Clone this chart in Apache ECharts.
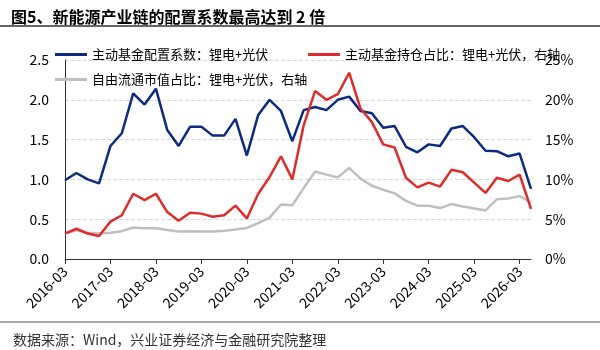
<!DOCTYPE html>
<html><head><meta charset="utf-8">
<script src="https://cdn.jsdelivr.net/npm/echarts@6/dist/echarts.min.js"></script>
<style>html,body{margin:0;padding:0;background:#fff}#c{width:600px;height:350px}</style>
</head><body><div id="c"></div>
<script>
const categories = [
 '2016-03','2016-06','2016-09','2016-12','2017-03','2017-06','2017-09','2017-12',
 '2018-03','2018-06','2018-09','2018-12','2019-03','2019-06','2019-09','2019-12',
 '2020-03','2020-06','2020-09','2020-12','2021-03','2021-06','2021-09','2021-12',
 '2022-03','2022-06','2022-09','2022-12','2023-03','2023-06','2023-09','2023-12',
 '2024-03','2024-06','2024-09','2024-12','2025-03','2025-06','2025-09','2025-12',
 '2026-03','2026-06'];
const allocCoef = [0.99,1.08,1.00,0.95,1.42,1.58,2.08,1.94,2.14,1.62,1.42,1.66,1.66,1.55,1.55,1.76,
 1.30,1.81,2.00,1.86,1.48,1.87,1.91,1.87,2.00,2.04,1.86,1.83,1.65,1.67,1.41,1.34,1.44,1.42,1.64,1.67,
 1.53,1.36,1.355,1.29,1.325,0.88];
const holdShare = [3.2,3.8,3.2,2.9,4.7,5.5,8.2,7.4,8.2,5.9,4.8,5.8,5.7,5.3,5.5,6.7,
 5.1,8.2,10.3,12.9,10.0,16.8,21.1,20.0,20.7,23.4,18.9,17.2,14.4,14.0,10.2,9.0,9.6,9.1,11.2,10.9,
 9.6,8.3,10.2,9.8,10.6,6.3];
const floatShare = [3.2,3.6,3.3,3.2,3.3,3.5,3.95,3.85,3.85,3.65,3.45,3.5,3.45,3.45,3.55,3.7,
 3.9,4.5,5.2,6.85,6.75,8.9,11.0,10.6,10.25,11.45,10.1,9.2,8.7,8.25,7.3,6.7,6.7,6.4,6.9,6.6,
 6.35,6.1,7.5,7.6,7.9,7.1];
const names = ['主动基金配置系数：锂电+光伏','主动基金持仓占比：锂电+光伏，右轴','自由流通市值占比：锂电+光伏，右轴'];
const colors = ['#0c2a80','#e02b2b','#bfbfbf'];
const FONT = '"Noto Sans CJK SC", "Noto Sans", sans-serif';

const chart = echarts.init(document.getElementById('c'), null, {renderer:'canvas'});
const legendBase = {icon:'rect', itemWidth:32, itemHeight:3, itemGap:10,
  textStyle:{fontSize:13, color:'#000', fontFamily:FONT}};
chart.setOption({
  animation:false,
  backgroundColor:'#fff',
  title:[
    {text:'图5、新能源产业链的配置系数最高达到 2 倍', left:6, top:4,
     textStyle:{fontSize:16, fontWeight:'bold', color:'#000', fontFamily:FONT}},
    {text:'数据来源：Wind，兴业证券经济与金融研究院整理', left:8, top:328,
     textStyle:{fontSize:14, fontWeight:'normal', color:'#333', fontFamily:FONT}}
  ],
  graphic:[
    {type:'line', shape:{x1:0,y1:26,x2:600,y2:26}, style:{stroke:'#333', lineWidth:1.5}},
    {type:'line', shape:{x1:0,y1:322,x2:600,y2:322}, style:{stroke:'#555', lineWidth:1}}
  ],
  legend:[
    Object.assign({}, legendBase, {left:50, top:43, data:[names[0]]}),
    Object.assign({}, legendBase, {left:303, top:43, data:[names[1]]}),
    Object.assign({}, legendBase, {left:50, top:68, data:[names[2]]})
  ],
  grid:{left:65, right:69, top:60, bottom:91, containLabel:false},
  xAxis:{type:'category', data:categories, boundaryGap:false,
    axisLine:{lineStyle:{color:'#333', width:1}},
    axisTick:{interval:3, length:5, lineStyle:{color:'#333'}},
    axisLabel:{interval:3, rotate:45, fontSize:14, color:'#000', fontFamily:FONT, margin:10},
    splitLine:{show:false}},
  yAxis:[
    {type:'value', min:0, max:2.5, interval:0.5,
     axisLine:{show:true, lineStyle:{color:'#333'}}, axisTick:{show:false},
     axisLabel:{fontSize:14, color:'#000', fontFamily:FONT, margin:16, formatter:v=>v.toFixed(1)},
     splitLine:{show:true, lineStyle:{color:'#d9d9d9', type:'dashed', width:1}}},
    {type:'value', min:0, max:25, interval:5, position:'right',
     axisLine:{show:false}, axisTick:{show:false},
     axisLabel:{fontSize:14, color:'#000', fontFamily:FONT, margin:14, formatter:'{value}%'},
     splitLine:{show:false}}
  ],
  series:[
    {name:names[2], type:'line', yAxisIndex:1, data:floatShare, showSymbol:false, symbol:'none',
     lineStyle:{color:colors[2], width:2.5}, itemStyle:{color:colors[2]}},
    {name:names[0], type:'line', yAxisIndex:0, data:allocCoef, showSymbol:false, symbol:'none',
     lineStyle:{color:colors[0], width:2.5}, itemStyle:{color:colors[0]}},
    {name:names[1], type:'line', yAxisIndex:1, data:holdShare, showSymbol:false, symbol:'none',
     lineStyle:{color:colors[1], width:2.5}, itemStyle:{color:colors[1]}}
  ]
});
</script></body></html>
